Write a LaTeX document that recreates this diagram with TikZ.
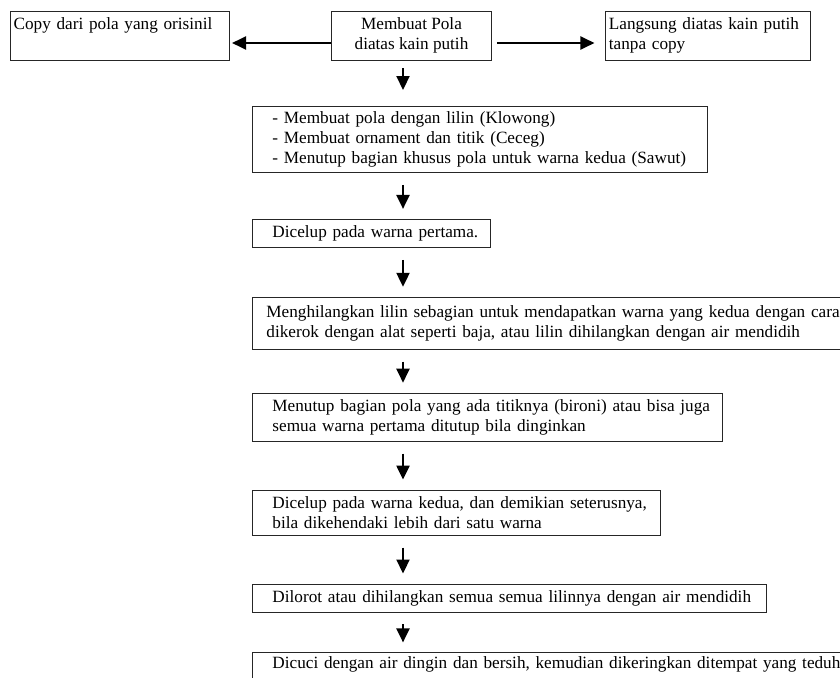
\documentclass[tikz,border=0pt]{standalone}
\usepackage{fontspec}
\setmainfont{Liberation Serif}
\usetikzlibrary{arrows.meta,positioning}
\tikzset{
  stepbox/.style={draw=black!85, line width=0.9pt, align=left, inner xsep=5pt, inner ysep=4pt, execute at begin node={\leftskip=15pt\relax}},
  topbox/.style={draw=black!85, line width=0.9pt, inner xsep=3pt, inner ysep=4pt, minimum height=49pt},
  flow/.style={-{Triangle[length=14pt,width=13pt]}, line width=2.2pt}
}
\begin{document}
\begin{tikzpicture}[font=\fontsize{17.2}{20.4}\selectfont]
  \useasboundingbox (0,0) rectangle (840pt,-677pt);
  \clip (0,0) rectangle (840pt,-677pt);
  \coordinate (ax) at (403pt,0);

  % top row
  \node[topbox, align=center, minimum width=160pt] (pola) at (411.5pt,-35.5pt) {Membuat Pola\\diatas kain putih};
  \node[topbox, left=101pt of pola, text width=213pt, text depth=24pt, align=left] (copy) {Copy dari pola yang orisinil};
  \node[topbox, right=113.5pt of pola, text width=199pt, align=left] (langsung) {Langsung diatas kain putih\\tanpa copy};

  % steps
  \node[stepbox, anchor=north west, text width=445pt, minimum height=66pt] (b2) at (252pt,-106pt)
    {- Membuat pola dengan lilin (Klowong)\\- Membuat ornament dan titik (Ceceg)\\- Menutup bagian khusus pola untuk warna kedua (Sawut)};
  \node[stepbox, below=46pt of b2.south west, anchor=north west, text width=228pt, minimum height=28pt] (b3)
    {Dicelup pada warna pertama.};
  \node[stepbox, below=49pt of b3.south west, anchor=north west, text width=620pt, minimum height=52pt,
        execute at begin node={\leftskip=9pt\relax}] (b4)
    {Menghilangkan lilin sebagian untuk mendapatkan warna yang kedua dengan cara\\dikerok dengan alat seperti baja, atau lilin dihilangkan dengan air mendidih};
  \node[stepbox, below=43pt of b4.south west, anchor=north west, text width=460pt, minimum height=48pt] (b5)
    {Menutup bagian pola yang ada titiknya (bironi) atau bisa juga\\semua warna pertama ditutup bila dinginkan};
  \node[stepbox, below=48pt of b5.south west, anchor=north west, text width=398pt, minimum height=45pt] (b6)
    {Dicelup pada warna kedua, dan demikian seterusnya,\\bila dikehendaki lebih dari satu warna};
  \node[stepbox, below=48pt of b6.south west, anchor=north west, text width=504pt, minimum height=28pt] (b7)
    {Dilorot atau dihilangkan semua semua lilinnya dengan air mendidih};
  \node[stepbox, below=40pt of b7.south west, anchor=north west, text width=620pt, text depth=40pt] (b8)
    {Dicuci dengan air dingin dan bersih, kemudian dikeringkan ditempat yang teduh};

  \draw[flow, shorten >=2pt] ([yshift=-7.5pt]pola.west) -- ([yshift=-7.5pt]pola.west -| copy.east);
  \draw[flow, shorten <=5pt, shorten >=11pt] ([yshift=-7.5pt]pola.east) -- ([yshift=-7.5pt]pola.east -| langsung.west);
  \draw[flow, shorten <=8pt, shorten >=16pt] (pola.south -| ax) -- (b2.north -| ax);
  \draw[flow, shorten <=12pt, shorten >=10pt] (b2.south -| ax) -- (b3.north -| ax);
  \draw[flow, shorten <=12pt, shorten >=10pt] (b3.south -| ax) -- (b4.north -| ax);
  \draw[flow, shorten <=12pt, shorten >=10pt] (b4.south -| ax) -- (b5.north -| ax);
  \draw[flow, shorten <=12pt, shorten >=10pt] (b5.south -| ax) -- (b6.north -| ax);
  \draw[flow, shorten <=12pt, shorten >=10pt] (b6.south -| ax) -- (b7.north -| ax);
  \draw[flow, shorten <=12pt, shorten >=10pt] (b7.south -| ax) -- (b8.north -| ax);
\end{tikzpicture}
\end{document}
